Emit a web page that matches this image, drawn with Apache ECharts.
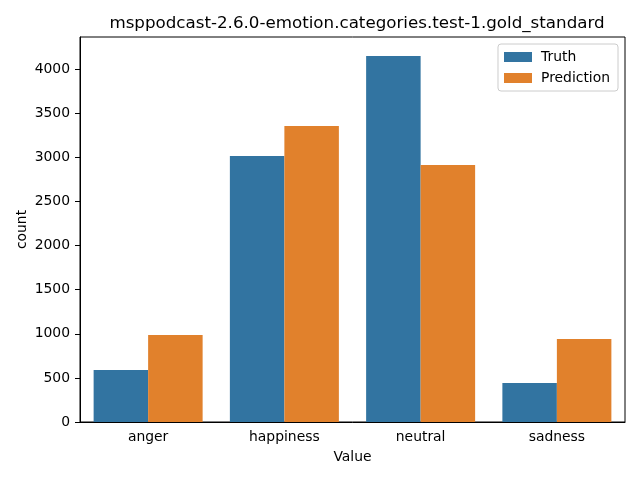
<!DOCTYPE html>
<html style="height: 100%">
<head>
    <meta charset="utf-8">
    <script src="https://fastly.jsdelivr.net/npm/echarts@6.0.0/dist/echarts.min.js"></script>
    <title>emotion categories</title>
</head>
<body style="height: 100%; margin: 0">
<div id="container" style="width:640px;height:480px"></div>

<script type="text/javascript">
    // data
    var categories = ['anger', 'happiness', 'neutral', 'sadness'];
    var truthCounts = [590, 3016, 4150, 442];
    var predictionCounts = [987, 3357, 2914, 941];
    var yTicks = [0, 500, 1000, 1500, 2000, 2500, 3000, 3500, 4000];

    var font = 'DejaVu Sans';
    var myChart = echarts.init(document.getElementById('container'), null, {renderer: 'canvas'});

    var option = {
        backgroundColor: '#ffffff',
        animation: false,
        textStyle: {fontFamily: font},
        title: {
            text: 'msppodcast-2.6.0-emotion.categories.test-1.gold_standard',
            left: 352,
            top: 10,
            textAlign: 'center',
            textStyle: {fontSize: 16.7, fontWeight: 'normal', color: '#000', fontFamily: font}
        },
        legend: {
            data: ['Truth', 'Prediction'],
            orient: 'vertical',
            icon: 'rect',
            right: 22,
            top: 44,
            padding: [6, 8, 6, 6],
            itemWidth: 28,
            itemHeight: 10,
            itemGap: 7,
            borderColor: '#cccccc',
            borderWidth: 1,
            borderRadius: 3,
            backgroundColor: 'rgba(255,255,255,0.8)',
            textStyle: {fontSize: 13.9, color: '#000', fontFamily: font, padding: [0, 0, 0, 4]}
        },
        grid: {
            left: 80,
            right: 15,
            top: 37,
            bottom: 58,
            show: true,
            borderColor: '#000',
            borderWidth: 1,
            containLabel: false
        },
        xAxis: {
            type: 'category',
            data: categories,
            name: 'Value',
            nameLocation: 'middle',
            nameGap: 28,
            nameMoveOverlap: false,
            nameTextStyle: {fontSize: 13.9, color: '#000', fontFamily: font},
            axisLine: {lineStyle: {color: '#000', width: 1}},
            axisTick: {alignWithLabel: true, length: 5, lineStyle: {color: '#000'}},
            axisLabel: {fontSize: 13.9, color: '#000', margin: 8, fontFamily: font},
            splitLine: {show: false}
        },
        yAxis: {
            type: 'value',
            min: 0,
            max: 4366,
            name: 'count',
            nameLocation: 'middle',
            nameRotate: 90,
            nameGap: 51,
            nameMoveOverlap: false,
            nameTextStyle: {fontSize: 13.9, color: '#000', fontFamily: font},
            axisLine: {show: true, lineStyle: {color: '#000', width: 1}},
            axisTick: {show: true, length: 5, customValues: yTicks, lineStyle: {color: '#000'}},
            axisLabel: {
                fontSize: 13.9, color: '#000', margin: 10, customValues: yTicks, fontFamily: font,
                formatter: function (v) { return String(v); }
            },
            splitLine: {show: false}
        },
        series: [
            {
                name: 'Truth',
                type: 'bar',
                data: truthCounts,
                barGap: '0%',
                barCategoryGap: '20%',
                itemStyle: {color: '#3274a1'}
            },
            {
                name: 'Prediction',
                type: 'bar',
                data: predictionCounts,
                barGap: '0%',
                barCategoryGap: '20%',
                itemStyle: {color: '#e1812c'}
            }
        ]
    };

    myChart.setOption(option);
    window.addEventListener('resize', myChart.resize);
</script>
</body>
</html>
